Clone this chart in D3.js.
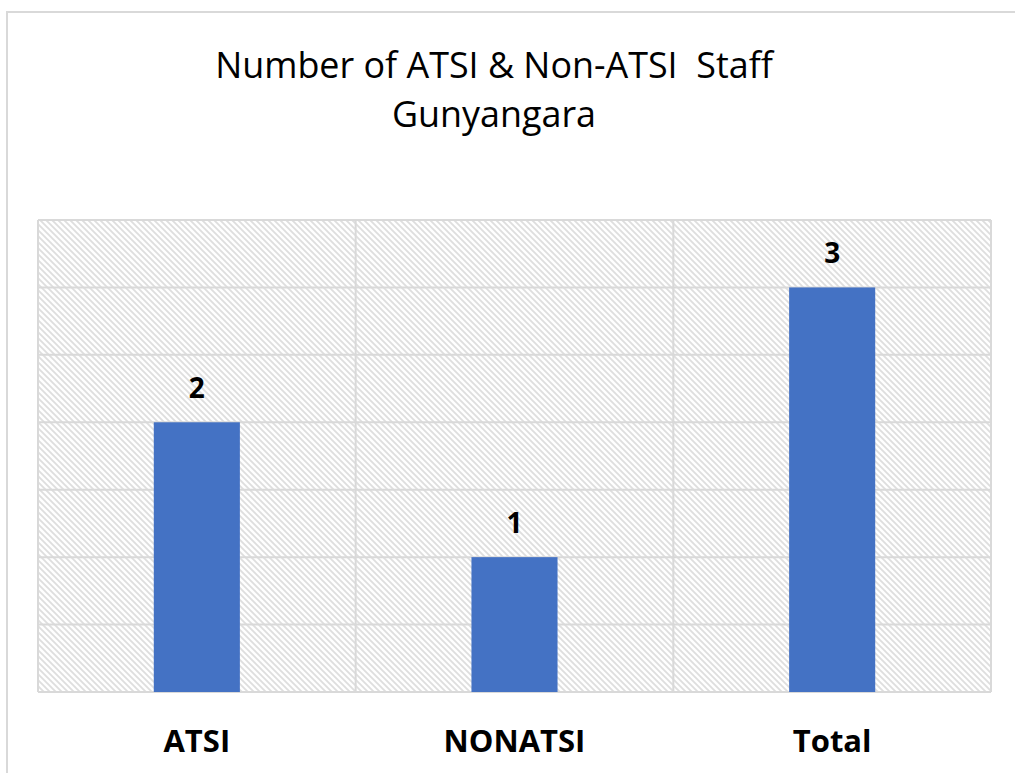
<!DOCTYPE html>
<html><head><meta charset="utf-8">
<script src="https://cdn.jsdelivr.net/npm/d3@7"></script>
<style>body{margin:0;background:#fff;} svg{display:block;}</style>
</head><body>
<script>
const categories = ["ATSI", "NONATSI", "Total"];
const values = [2, 1, 3];
const yTicks = [0, 0.5, 1, 1.5, 2, 2.5, 3, 3.5];
const titleLines = ["Number of ATSI & Non-ATSI  Staff", "Gunyangara"];

const W = 1015, H = 773;
const svg = d3.select("body").append("svg").attr("width", W).attr("height", H);
const plot = {left: 38, right: 991, top: 220, bottom: 692};

const defs = svg.append("defs");
const pat = defs.append("pattern").attr("id", "hatch").attr("patternUnits", "userSpaceOnUse")
  .attr("width", 6).attr("height", 6);
pat.append("rect").attr("width", 6).attr("height", 6).attr("fill", "#fff");
pat.append("path").attr("d", "M-1,-1 L7,7 M-4,2 L4,10 M2,-4 L10,4")
  .attr("stroke", "#dedede").attr("stroke-width", 1.8);

// outer frame
svg.append("rect").attr("x", 7).attr("y", 12).attr("width", W + 10).attr("height", H + 10)
  .attr("fill", "none").attr("stroke", "#d9d9d9").attr("stroke-width", 2);

const x = d3.scaleBand().domain(categories).range([plot.left, plot.right]).padding(0);
const y = d3.scaleLinear().domain([0, 3.5]).range([plot.bottom, plot.top]);

svg.append("rect").attr("x", plot.left).attr("y", plot.top)
  .attr("width", plot.right - plot.left).attr("height", plot.bottom - plot.top)
  .attr("fill", "url(#hatch)");

// horizontal gridlines
svg.append("g").selectAll("line").data(yTicks).join("line")
  .attr("x1", plot.left).attr("x2", plot.right)
  .attr("y1", d => y(d)).attr("y2", d => y(d))
  .attr("stroke", "#d9d9d9").attr("stroke-width", 2);

// vertical category boundaries
const bounds = categories.map(c => x(c)).concat([x(categories[categories.length-1]) + x.bandwidth()]);
svg.append("g").selectAll("line").data(bounds).join("line")
  .attr("x1", d => d).attr("x2", d => d)
  .attr("y1", plot.top).attr("y2", plot.bottom)
  .attr("stroke", "#d9d9d9").attr("stroke-width", 2);

const barW = x.bandwidth() * 0.271;
svg.append("g").selectAll("rect").data(values).join("rect")
  .attr("x", (d, i) => x(categories[i]) + x.bandwidth() / 2 - barW / 2)
  .attr("y", d => y(d)).attr("width", barW).attr("height", d => y(0) - y(d))
  .attr("fill", "#4472c4");

// data labels
svg.append("g").selectAll("text").data(values).join("text")
  .attr("x", (d, i) => x(categories[i]) + x.bandwidth() / 2)
  .attr("y", d => y(d) - 24)
  .attr("text-anchor", "middle")
  .attr("font-family", "Open Sans, sans-serif").attr("font-weight", "bold")
  .attr("font-size", 28).attr("fill", "#000")
  .text(d => d);

// category labels
const catFs = 31;
svg.append("g").selectAll("text").data(categories).join("text")
  .attr("x", d => x(d) + x.bandwidth() / 2)
  .attr("y", 752)
  .attr("text-anchor", "middle")
  .attr("font-family", "Open Sans, sans-serif").attr("font-weight", "bold")
  .attr("font-size", catFs).attr("fill", "#000")
  .text(d => d);

// title
const t = svg.append("g");
t.selectAll("text").data(titleLines).join("text")
  .attr("x", 494).attr("y", (d, i) => 78 + i * 49)
  .attr("text-anchor", "middle")
  .attr("font-family", "Open Sans, sans-serif")
  .attr("font-size", 32).attr("fill", "#000")
  .style("white-space", "pre")
  .text(d => d);
// fit width of first line to ~558px
const tn = t.select("text").node();
const wl = tn.getComputedTextLength();
const scale = 558 / wl;
t.selectAll("text").attr("font-size", 32 * scale);
</script>
</body></html>
